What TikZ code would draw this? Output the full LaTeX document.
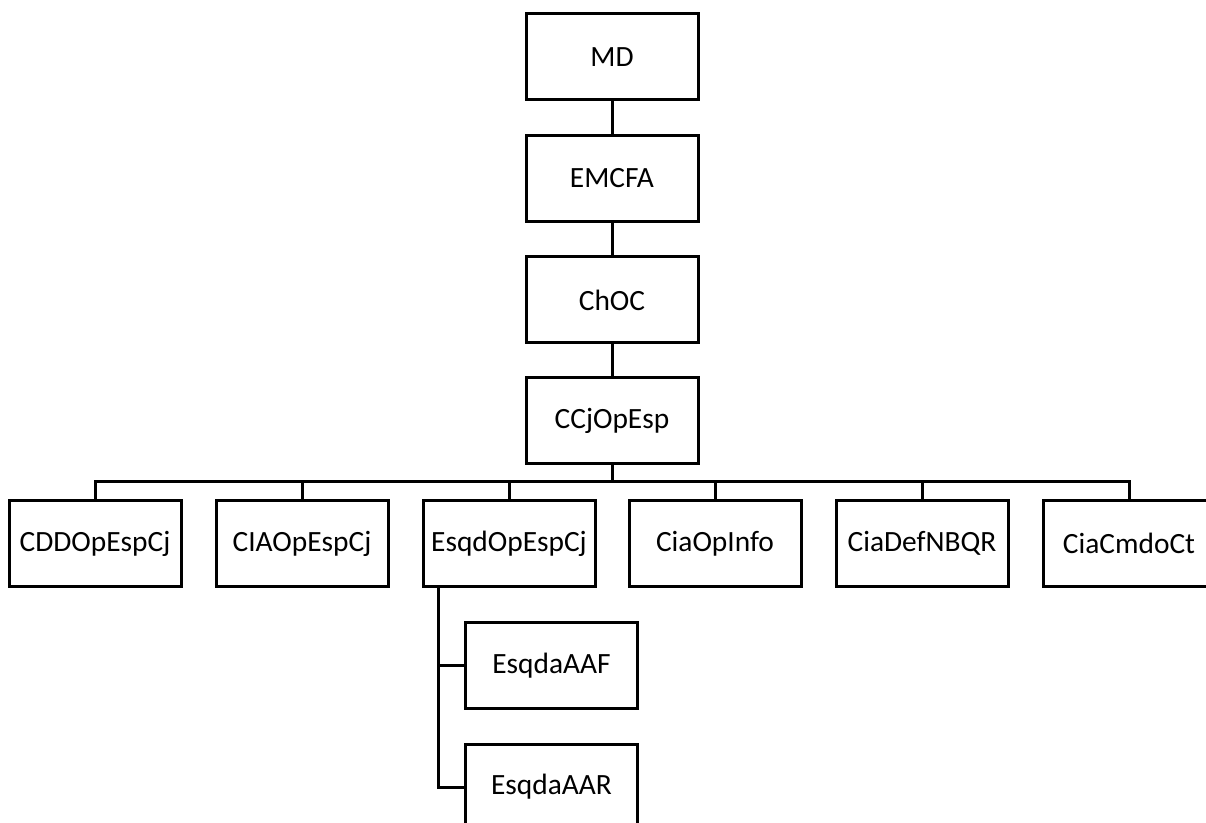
\documentclass[tikz,border=0pt]{standalone}
\usepackage{fontspec}
\setmainfont{Carlito}
\begin{document}
\begin{tikzpicture}[x=0.5pt,y=-0.5pt,line join=miter,
  unit/.style={draw,line width=1.5pt,minimum width=86pt,minimum height=43pt,
    inner sep=0pt,font=\fontsize{14.7}{17}\selectfont},
  link/.style={line width=1.5pt}]
\clip (0,0) rectangle (1206,823);
% command chain
\node[unit] (md) at (612,57) {MD};
\node[unit] (emcfa) at (612,178.5) {EMCFA};
\node[unit] (choc) at (612,300) {ChOC};
\node[unit] (ccj) at (612,420.5) {CCjOpEsp};
\draw[link] (md) -- (emcfa) -- (choc) -- (ccj);
% subordinate units
\foreach \nome/\x/\txt in {cdd/95/CDDOpEspCj,cia/302/CIAOpEspCj,esqd/509/EsqdOpEspCj,
  info/715/CiaOpInfo,dqbrn/922/CiaDefNBQR,cmdo/1129/CiaCmdoCt}
{
\node[unit] (\nome) at (\x,543.5) {\txt};
}
\coordinate (bus) at (612,482);
\draw[link] (ccj) -- (bus);
\foreach \nome in {cdd,cia,esqd,info,dqbrn,cmdo}
{
\draw[link] (bus) -| (\nome);
}
% squadrons
\node[unit] (aaf) at (551.5,665.5) {EsqdaAAF};
\node[unit] (aar) at (551.5,787) {EsqdaAAR};
\coordinate (tronco) at ([xshift=8.5pt]esqd.south west);
\draw[link] (tronco) |- (aaf);
\draw[link] (tronco) |- (aar);
\end{tikzpicture}
\end{document}
